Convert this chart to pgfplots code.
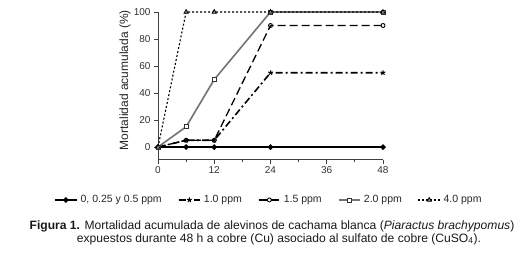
\documentclass[border=0pt]{standalone}
\usepackage{pgfplots}
\pgfplotsset{compat=1.18}
\usepackage{fontspec}
\setmainfont{Liberation Sans}
\begin{document}
\begin{tikzpicture}
\path[use as bounding box] (0,0) rectangle (531pt,256pt);
\begin{axis}[
  at={(158pt,96pt)}, anchor=south west,
  scale only axis, width=225pt, height=148pt,
  xmin=0, xmax=48, ymin=-9.6, ymax=100,
  axis lines=left, axis line style={-, line width=1pt, black!75},
  xtick={0,12,24,36,48}, minor xtick={6,18,30,42},
  ytick={0,20,40,60,80,100},
  tick align=outside, major tick length=4pt, minor tick length=2.5pt,
  tick style={line width=0.8pt, black!75},
  /pgf/number format/assume math mode=true,
  ticklabel style={font=\fontsize{10}{11}\selectfont, text=black!80},
  xticklabel style={yshift=1pt},
  clip=false,
  every axis y label/.style={at={(axis description cs:-0.147,0.54)}, rotate=90, anchor=center},
  ylabel={Mortalidad acumulada (\%)},
  ylabel style={font=\fontsize{12}{13}\selectfont, text=black!85},
  legend columns=5,
  legend style={at={(axis description cs:0.493,-0.27)}, anchor=center, draw=none, fill=none,
    font=\fontsize{10.5}{12}\selectfont, text=black!85,
    /tikz/every even column/.append style={column sep=14pt},
    /tikz/every odd column/.append style={column sep=1pt}},
  legend image code/.code={\draw[mark repeat=2,mark phase=2] plot coordinates {(0cm,0cm) (0.38cm,0cm) (0.76cm,0cm)};},
]
\addplot[black, line width=1.7pt, mark=*, mark size=1.8pt, mark options={solid}]
  coordinates {(0,0) (6,0) (12,0) (24,0) (48,0)};
\addlegendentry{0, 0.25 y 0.5 ppm}
\addplot[black, line width=1.6pt, dash pattern=on 7pt off 3pt on 2pt off 3pt, mark=star, mark size=2.5pt, mark options={solid, line width=1pt}]
  coordinates {(0,0) (6,5) (12,5) (24,55) (48,55)};
\addlegendentry{1.0 ppm}
\addplot[black, line width=1.3pt, dash pattern=on 8pt off 4pt, mark=o, mark size=2pt, mark options={solid, fill=white, line width=0.9pt}]
  coordinates {(0,0) (6,5) (12,5) (24,90) (48,90)};
\addlegendentry{1.5 ppm}
\addplot[black!55, line width=1.6pt, mark=square*, mark size=2pt, mark options={solid, fill=white, draw=black!80, line width=0.9pt}]
  coordinates {(0,0) (6,15) (12,50) (24,100) (48,100)};
\addlegendentry{2.0 ppm}
\addplot[black, line width=1.1pt, dash pattern=on 2pt off 2pt, mark=triangle*, mark size=2.4pt, mark options={solid, fill=black!40, draw=black, line width=0.8pt}]
  coordinates {(0,0) (6,100) (12,100) (24,100) (48,100)};
\addlegendentry{4.0 ppm}
\end{axis}
\node[font=\fontsize{12.1}{14}\selectfont, text=black!90] at (272pt,30pt) {\textbf{Figura 1.} Mortalidad acumulada de alevinos de cachama blanca (\textit{Piaractus brachypomus})};
\node[font=\fontsize{12.1}{14}\selectfont, text=black!90] at (279pt,17pt) {expuestos durante 48 h a cobre (Cu) asociado al sulfato de cobre (CuSO\textsubscript{4}).};
\end{tikzpicture}
\end{document}
